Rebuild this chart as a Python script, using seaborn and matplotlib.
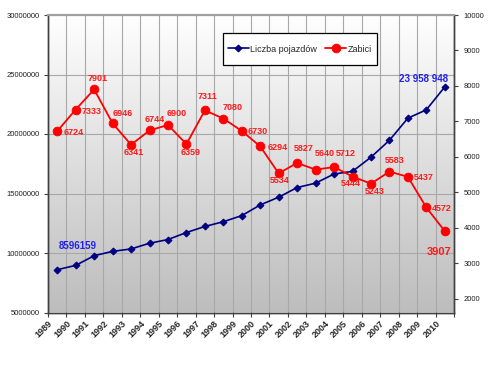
import numpy as np
import pandas as pd
import matplotlib
matplotlib.use("Agg")
import matplotlib.pyplot as plt
from matplotlib.colors import LinearSegmentedColormap
from matplotlib.ticker import FuncFormatter
from matplotlib.patches import Rectangle
import seaborn as sns

# ---------------- data ----------------
years = [str(y) for y in range(1989, 2011)]
vehicles = [8596159, 8960000, 9770000, 10140000, 10340000, 10820000, 11130000,
            11720000, 12230000, 12630000, 13140000, 14040000, 14690000, 15500000,
            15870000, 16640000, 16860000, 18050000, 19470000, 21330000, 22030000,
            23958948]
killed = [6724, 7333, 7901, 6946, 6341, 6744, 6900, 6359, 7311, 7080, 6730,
          6294, 5534, 5827, 5640, 5712, 5444, 5243, 5583, 5437, 4572, 3907]
vehicle_labels = {0: "8596159", 21: "23 958 948"}
left_ticks = [5000000, 10000000, 15000000, 20000000, 25000000, 30000000]
right_ticks = [2000, 3000, 4000, 5000, 6000, 7000, 8000, 9000, 10000]

# label placement (pixel offsets of label centre from point)
killed_offsets = [(16, -1), (16, -1.5), (4, 11), (10, 10), (3, -7.5), (5, 11),
                  (9, 11), (4, -8), (3, 14), (9, 11), (16, -1), (17, -1),
                  (1, -7), (7, 14), (9, 16), (12, 14), (-2, -6.5), (4, -8),
                  (5, 11), (15.5, -1), (15.5, -1), (-6, -21)]
vehicle_offsets = {0: (20.5, 24), 21: (-21, 8)}

# ---------------- style ----------------
sns.set_theme(style="white")
plt.rcParams["font.family"] = ["Liberation Sans", "DejaVu Sans"]

df = pd.DataFrame({
    "pos": np.arange(len(years)) + 0.5,
    "year": years,
    "Liczba pojazdów": vehicles,
    "Zabici": killed,
})

W, H = 488, 366
fig = plt.figure(figsize=(W / 100, H / 100), dpi=100)
fig.patch.set_facecolor("white")
ax = fig.add_axes([48 / W, 1 - 312.5 / H, 406 / W, 297.5 / H])
ax2 = ax.twinx()

# gradient background
cmap = LinearSegmentedColormap.from_list("g", ["#bdbdbd", "#ffffff"])
grad = np.linspace(1, 0, 256).reshape(-1, 1)
ax.imshow(grad, extent=[0, 1, 0, 1], transform=ax.transAxes, cmap=cmap,
          aspect="auto", zorder=0, interpolation="bilinear")

sns.lineplot(data=df, x="pos", y="Liczba pojazdów", ax=ax, color="#000080",
             marker="D", markersize=3.5, markeredgecolor="#000080",
             linewidth=1.2, label="Liczba pojazdów", zorder=3)
sns.lineplot(data=df, x="pos", y="Zabici", ax=ax2, color="#ff0000",
             marker="o", markersize=6.3, markeredgecolor="#ff0000",
             markeredgewidth=0.6, linewidth=1.3, label="Zabici", zorder=3)

ax.set_xlim(0, len(years))
ax.set_ylim(left_ticks[0], left_ticks[-1])
ax2.set_ylim(1610, right_ticks[-1])

# grid / ticks
ax.set_xticks(np.arange(len(years) + 1))
ax.set_xticklabels(years + [""], rotation=45, ha="right", va="top",
                   rotation_mode="anchor", fontsize=6.5, fontweight="bold")
ax.set_yticks(left_ticks)
ax.yaxis.set_major_formatter(FuncFormatter(lambda v, p: f"{int(v)}"))
ax.grid(True, color="#a8a8a8", linewidth=0.8)
ax.set_axisbelow(True)
ax.tick_params(axis="x", length=3, width=0.8, color="#404040", pad=1.5,
               bottom=True)
ax.tick_params(axis="y", labelsize=5.5, length=3, width=0.8, color="#404040",
               pad=3, left=True, labelcolor="#202020")
ax2.set_yticks(right_ticks)
ax2.yaxis.set_major_formatter(FuncFormatter(lambda v, p: f"{int(v)}"))
ax2.tick_params(axis="y", labelsize=5.5, length=3, width=0.8, color="#404040",
                pad=4, right=True, labelcolor="#202020")
ax.set_xlabel("")
ax.set_ylabel("")
ax2.set_ylabel("")

for a in (ax, ax2):
    for s in ("left", "bottom", "right"):
        a.spines[s].set_color("#404040")
        a.spines[s].set_linewidth(1.0)
    a.spines["top"].set_color("#a0a0a0")
    a.spines["top"].set_linewidth(1.5)

# data labels
for i, (x, v) in enumerate(zip(df["pos"], killed)):
    dx, dy = killed_offsets[i]
    big = i == len(killed) - 1
    ax2.annotate(str(v), (x, v), xytext=(dx, dy), textcoords="offset pixels",
                 ha="center", va="center", color="#ff1a1a", fontweight="bold",
                 fontsize=8 if big else 6.5, zorder=5)
for i, txt in vehicle_labels.items():
    dx, dy = vehicle_offsets[i]
    ax.annotate(txt, (df["pos"][i], vehicles[i]), xytext=(dx, dy),
                textcoords="offset pixels", ha="center", va="center",
                color="#2222ee", fontweight="bold", fontsize=7)

# legend (frame drawn as a separate box)
h1, l1 = ax.get_legend_handles_labels()
h2, l2 = ax2.get_legend_handles_labels()
if ax.get_legend():
    ax.get_legend().remove()
if ax2.get_legend():
    ax2.get_legend().remove()

bx0, bx1, by0, by1 = 223, 377, 33, 65  # pixel box of the legend frame
ax2.add_patch(Rectangle(((bx0 - 48) / 406, (312.5 - by1) / 297.5),
                        (bx1 - bx0) / 406, (by1 - by0) / 297.5,
                        transform=ax2.transAxes, facecolor="white",
                        edgecolor="black", linewidth=0.9, zorder=6))
leg = ax2.legend(h1 + h2, l1 + l2, loc="center",
                 bbox_to_anchor=(((bx0 + bx1) / 2 - 48) / 406,
                                 (312.5 - (by0 + by1) / 2) / 297.5),
                 ncol=2, fontsize=6.5, frameon=False, borderpad=0.2,
                 handlelength=2.3, handletextpad=0.2, columnspacing=0.9)
leg.set_zorder(7)

fig.savefig("out.png", dpi=100)
